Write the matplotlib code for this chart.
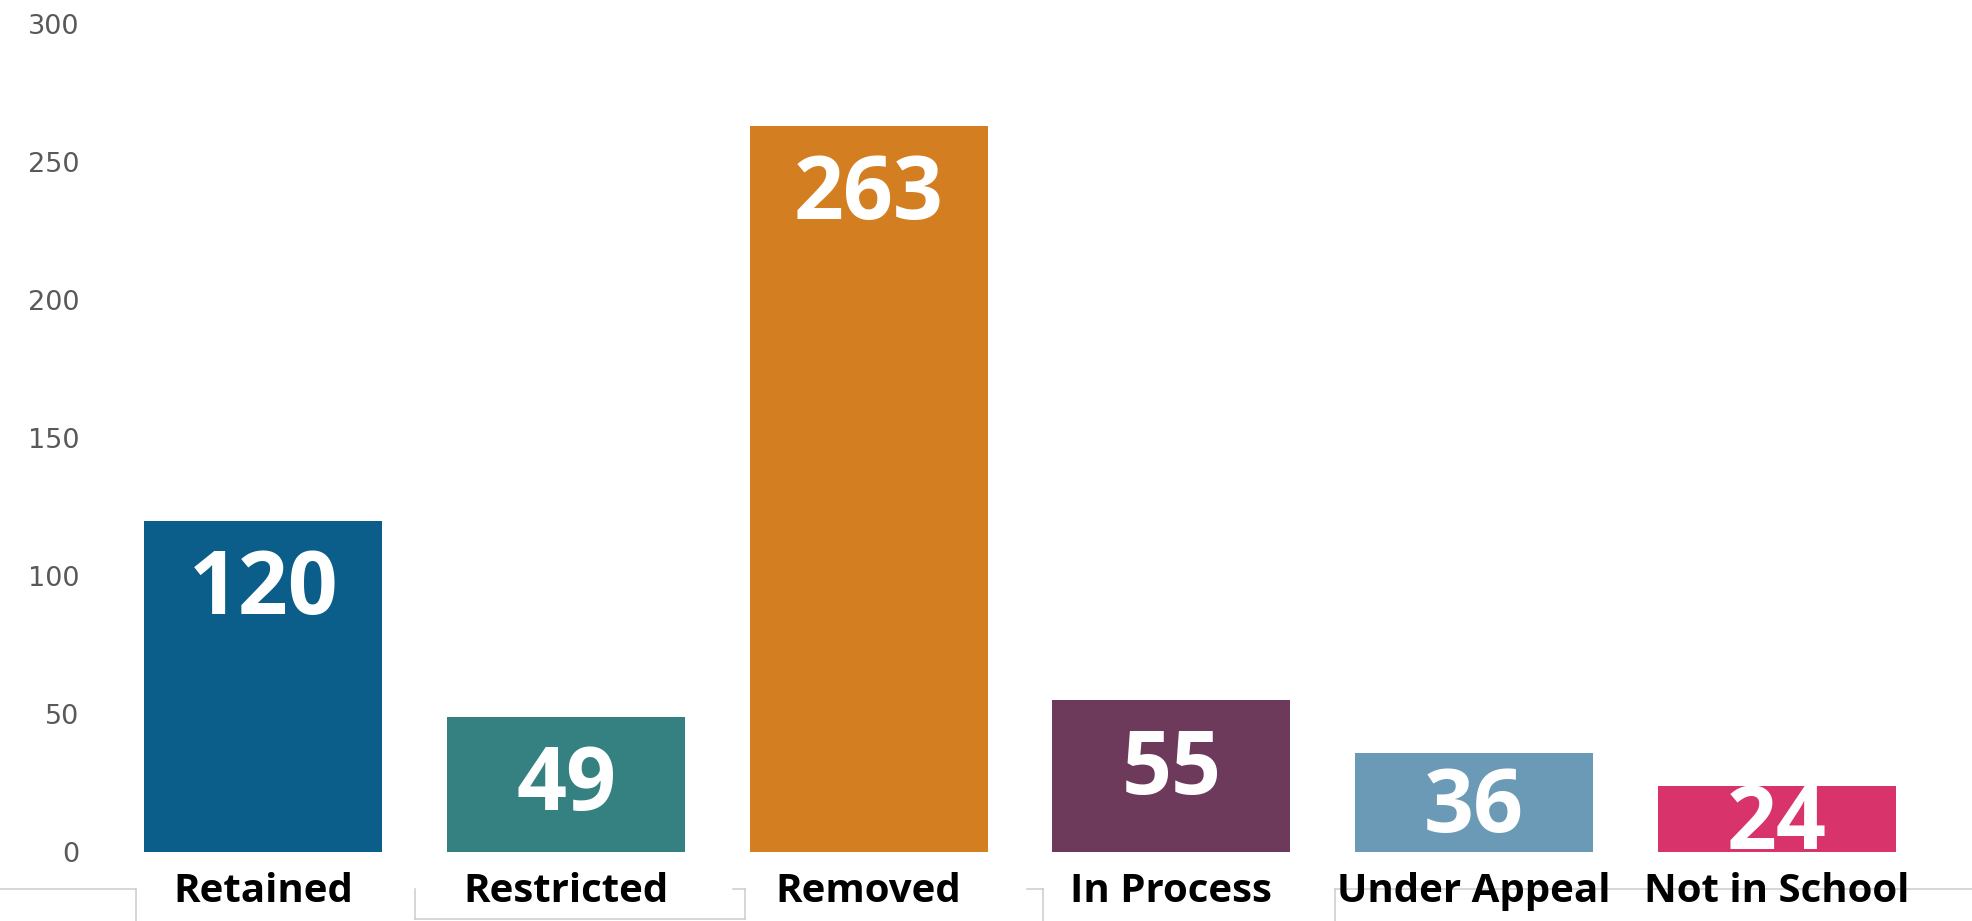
import matplotlib
matplotlib.use("Agg")
import matplotlib.pyplot as plt
from matplotlib.lines import Line2D

categories = ["Retained", "Restricted", "Removed", "In Process", "Under Appeal", "Not in School"]
values = [120, 49, 263, 55, 36, 24]
colors = ["#0a5e89", "#358181", "#d47e22", "#6d3a5c", "#6a9ab5", "#d9336c"]
yticks = [0, 50, 100, 150, 200, 250, 300]

W, H = 1972, 921
fig = plt.figure(figsize=(W / 100, H / 100), dpi=100)
ax = fig.add_axes([112 / W, (H - 852) / H, 1816 / W, 828 / H])

x = list(range(len(categories)))
ax.bar(x, values, width=0.786, color=colors)
ax.set_xlim(-0.5, len(categories) - 0.5)
ax.set_ylim(0, 300)

for s in ax.spines.values():
    s.set_visible(False)

ax.set_yticks(yticks)
ax.set_yticklabels([str(t) for t in yticks], fontsize=19.5, color="#595959",
                   family="DejaVu Sans")
ax.tick_params(axis="y", length=0, pad=23.5)

ax.set_xticks(x)
ax.set_xticklabels(categories, fontsize=29, fontweight="bold", color="black",
                   family="Open Sans")
ax.tick_params(axis="x", length=0, pad=14.5)

for xi, v in zip(x, values):
    yc = v - min(25.5, v / 2 + 2.5)
    ax.text(xi, yc, str(v), ha="center", va="center", color="white",
            fontsize=63, fontweight="bold", family="Open Sans")

# faint grey frame fragments along the bottom edge
grey = "#cccccc"
segs = [
    ((0, 136), (889, 889)), ((136, 136), (889, 921)),
    ((415, 415), (889, 919)), ((415, 745), (919, 919)), ((745, 745), (889, 919)),
    ((733, 745), (889, 889)),
    ((1027, 1043), (889, 889)), ((1043, 1043), (889, 921)),
    ((1335, 1335), (889, 921)), ((1335, 1972), (889, 889)),
]
for xs, ys in segs:
    fig.add_artist(Line2D([p / W for p in xs], [1 - p / H for p in ys],
                          transform=fig.transFigure, color=grey, lw=1.1, zorder=0))

fig.savefig("out.png", dpi=100)
